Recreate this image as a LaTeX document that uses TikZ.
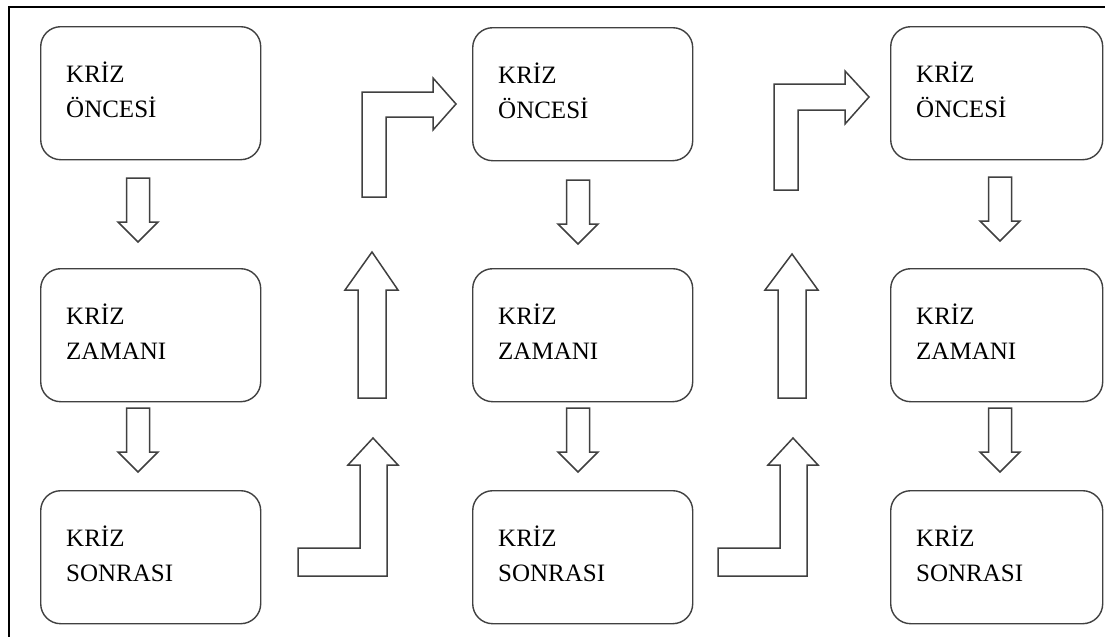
\documentclass[tikz,border=0pt]{standalone}
\usepackage{fontspec}
\setmainfont{Liberation Serif}
\usetikzlibrary{calc}
\tikzset{
  kbox/.style={draw=black!75, line width=1.4pt, rounded corners=20pt, inner sep=0pt, anchor=north west},
  ktext/.style={anchor=base west, inner sep=0pt, font=\fontsize{25}{30}\selectfont, text=black},
  barrow/.style={draw=black!75, line width=1.5pt, fill=white, line join=miter},
  frameline/.style={draw=black, line width=1.8pt}
}
\newcommand{\kriz}[5]{%
  \node[kbox, minimum width=#4pt, minimum height=133pt] (#1) at (#2,#3) {};
  \node[ktext] (#1a) at ($(#1.north west)+(26,56)$) {KRİZ};
  \node[ktext] (#1b) at ($(#1.north west)+(26,91)$) {#5};
}
\newcommand{\dnarrow}[3]{% name, cx, ytop
  \draw[barrow] ($(#2,#3)+(-11.5,0)$) coordinate (#1) -- ++(23,0) -- ++(0,44) -- ++(8.5,0)
    -- ++(-20,20) -- ++(-20,-20) -- ++(8.5,0) -- cycle;
}
\begin{document}
\begin{tikzpicture}[x=1pt,y=-1pt]
\useasboundingbox (0,0) rectangle (1105,637);
\fill[white] (0,0) rectangle (1105,637);
\coordinate (fTL) at (9,7);
\coordinate (fTR) at (1105,7);
\coordinate (fBL) at (9,637);
\draw[frameline] (fTR) -- (fTL) -- (fBL);

% column 1
\kriz{a1}{40}{26}{220}{ÖNCESİ}
\kriz{a2}{40}{268}{220}{ZAMANI}
\kriz{a3}{40}{490}{220}{SONRASI}
% column 2
\kriz{b1}{472}{27}{220}{ÖNCESİ}
\kriz{b2}{472}{268}{220}{ZAMANI}
\kriz{b3}{472}{490}{220}{SONRASI}
% column 3
\kriz{c1}{890}{26}{212}{ÖNCESİ}
\kriz{c2}{890}{268}{212}{ZAMANI}
\kriz{c3}{890}{490}{212}{SONRASI}

% down arrows
\dnarrow{da1}{138}{178}
\dnarrow{da2}{138}{408}
\dnarrow{db1}{578}{180}
\dnarrow{db2}{578}{408}
\dnarrow{dc1}{1000}{177}
\dnarrow{dc2}{1000}{408}

% straight up arrows
\draw[barrow] (358,398) -- (386,398) -- (386,290) -- (398,290) -- (372,252) -- (345,290) -- (358,290) -- cycle;
\draw[barrow] (778,398) -- (806,398) -- (806,290) -- (818,290) -- (792,254) -- (765,290) -- (778,290) -- cycle;

% L-shaped up arrows (bottom)
\draw[barrow] (298,576) -- (387,576) -- (387,465) -- (398,465) -- (373,438) -- (348,465) -- (360,465) -- (360,548) -- (298,548) -- cycle;
\draw[barrow] (718,576) -- (807,576) -- (807,465) -- (818,465) -- (793,438) -- (768,465) -- (780,465) -- (780,548) -- (718,548) -- cycle;

% L-shaped right arrows (top)
\draw[barrow] (362,197) -- (362,92) -- (433,92) -- (433,78) -- (456,104) -- (433,130) -- (433,117) -- (386,117) -- (386,197) -- cycle;
\draw[barrow] (774,190) -- (774,84) -- (845,84) -- (845,71) -- (869,97) -- (845,124) -- (845,110) -- (798,110) -- (798,190) -- cycle;
\end{tikzpicture}
\end{document}
